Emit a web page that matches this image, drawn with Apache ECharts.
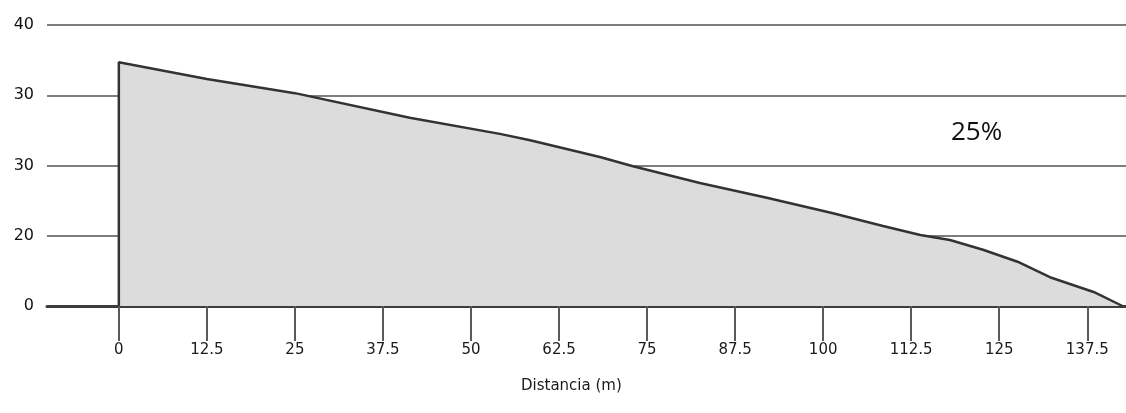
<!DOCTYPE html>
<html>
<head>
<meta charset="utf-8">
<script src="https://cdn.jsdelivr.net/npm/echarts@6/dist/echarts.min.js"></script>
<style>html,body{margin:0;padding:0;background:#fff;}#c{width:1126px;height:413px;}</style>
</head>
<body>
<div id="c"></div>
<script>
// Distance (m) along the profile
const distances = [0, 0, 12.5, 25, 41.3, 54.1, 58.4, 68.3, 73.0, 82.5, 92.0, 101.4, 108.5, 113.8, 118.0, 122.7, 127.6, 132.2, 138.4, 142.5];
// Height expressed in gridline steps (0..4) as drawn on the reference axis
const heights = [0, 3.47, 3.23, 3.03, 2.68, 2.45, 2.36, 2.12, 1.99, 1.75, 1.54, 1.32, 1.14, 1.01, 0.94, 0.80, 0.63, 0.41, 0.20, 0];
// Y-axis tick labels as printed on the reference (bottom to top)
const yTickLabels = ['0', '20', '30', '30', '40'];
// X-axis tick values
const xTicks = [0, 12.5, 25, 37.5, 50, 62.5, 75, 87.5, 100, 112.5, 125, 137.5];
const slopeLabel = '25%';
const xAxisTitle = 'Distancia (m)';

const chart = echarts.init(document.getElementById('c'), null, {renderer: 'canvas'});
const fontFam = '"DejaVu Sans", sans-serif';
chart.setOption({
  animation: false,
  backgroundColor: '#ffffff',
  grid: {left: 47, right: 0, top: 25, bottom: 107, containLabel: false},
  title: {
    text: xAxisTitle, left: 516, top: 374,
    textStyle: {fontFamily: fontFam, fontSize: 15, fontWeight: 'normal', color: '#1a1a1a'}
  },
  graphic: [{
    type: 'text', x: 951, y: 133,
    style: {text: slopeLabel, font: '26px "Open Sans", "DejaVu Sans", sans-serif', fill: '#111', align: 'left', verticalAlign: 'middle'}
  }],
  xAxis: {
    type: 'value', min: -10.2, max: 143,
    axisLine: {show: true, lineStyle: {color: '#3d3d3d', width: 3}},
    axisTick: {show: true, length: 35, customValues: xTicks, lineStyle: {color: '#5a5a5a', width: 2}},
    axisLabel: {show: true, customValues: xTicks, margin: 37, fontFamily: fontFam, fontSize: 15, color: '#1a1a1a'},
    splitLine: {show: false}
  },
  yAxis: {
    type: 'value', min: 0, max: 4, interval: 1,
    axisLine: {show: false}, axisTick: {show: false},
    axisLabel: {margin: 13, fontFamily: fontFam, fontSize: 16, color: '#111',
      formatter: function (v) { return yTickLabels[Math.round(v)]; }},
    splitLine: {show: true, lineStyle: {color: '#7e7e7e', width: 2}}
  },
  series: [{
    type: 'line',
    data: distances.map((d, i) => [d, heights[i]]),
    showSymbol: false, symbol: 'none', smooth: false,
    lineStyle: {color: '#333333', width: 2.5},
    areaStyle: {color: '#dcdcdc', opacity: 1, origin: 'start'},
    z: 1
  }]
});
</script>
</body>
</html>
